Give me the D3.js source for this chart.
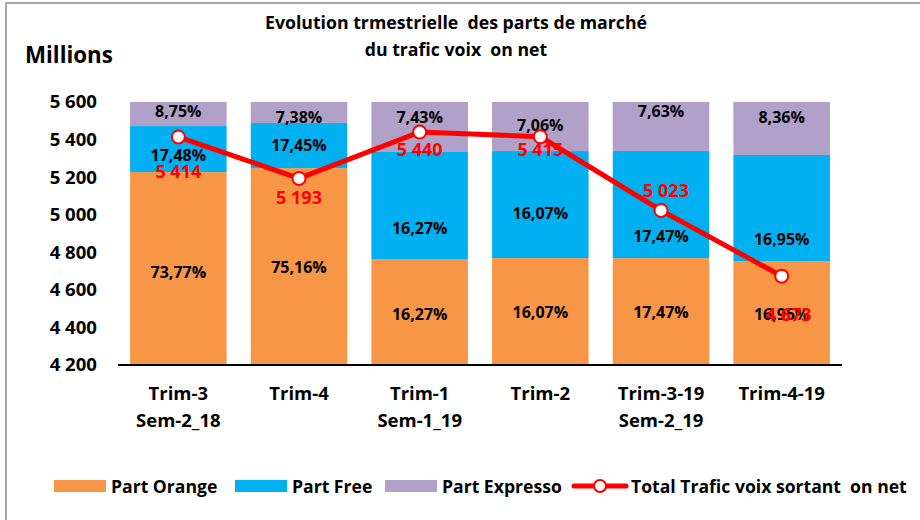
<!DOCTYPE html>
<html lang="fr">
<head>
<meta charset="utf-8">
<title>Evolution trimestrielle des parts de marché</title>
<script src="https://d3js.org/d3.v7.min.js"></script>
<style>
    body { margin: 0; background: #fff; }
    svg text { font-family: "Open Sans", Lato, sans-serif; font-weight: bold; }
</style>
</head>
<body>
<svg id="chart" width="920" height="520"></svg>
<script>
// Data (millions)
const quarters = [["Trim-3", "Sem-2_18"], ["Trim-4"], ["Trim-1", "Sem-1_19"], ["Trim-2"], ["Trim-3-19", "Sem-2_19"], ["Trim-4-19"]];
const orangeVals = [5227, 5248, 4764, 4769, 4769, 4753];
const freeVals = [245, 240, 570, 570, 570, 565];
const expressoVals = [400, 400, 400, 400, 400, 400];
const orangeLabels = ["73,77%", "75,16%", "16,27%", "16,07%", "17,47%", "16,95%"];
const freeLabels = ["17,48%", "17,45%", "16,27%", "16,07%", "17,47%", "16,95%"];
const expressoLabels = ["8,75%", "7,38%", "7,43%", "7,06%", "7,63%", "8,36%"];
const totalVals = [5414, 5193, 5440, 5415, 5023, 4673];
const totalLabels = ["5 414", "5 193", "5 440", "5 415", "5 023", "4 673"];
const yTicks = [4200, 4400, 4600, 4800, 5000, 5200, 5400, 5600];

const colors = {orange: "#F79646", free: "#00B0F0", expresso: "#B1A0C7", line: "#FF0000"};

const svg = d3.select("#chart");

// outer frame
svg.append("rect")
    .attr("x", 6).attr("y", 3)
    .attr("width", 930).attr("height", 530)
    .attr("fill", "none")
    .attr("stroke", "#8c8c8c")
    .attr("stroke-width", 1.5);

const plotL = 118, plotR = 842, plotT = 102, plotB = 365;

const x = d3.scaleBand()
    .domain(d3.range(quarters.length))
    .range([plotL, plotR])
    .paddingInner(0.2)
    .paddingOuter(0.1);

const y = d3.scaleLinear()
    .domain([4200, 5600])
    .range([plotB, plotT]);

svg.append("defs").append("clipPath").attr("id", "plot")
    .append("rect")
    .attr("x", plotL).attr("y", plotT)
    .attr("width", plotR - plotL).attr("height", plotB - plotT);

// stacked bars
const rows = quarters.map((q, i) => ({orange: orangeVals[i] - 4200, free: freeVals[i], expresso: expressoVals[i]}));
const stack = d3.stack().keys(["orange", "free", "expresso"])(rows);

const bars = svg.append("g").attr("clip-path", "url(#plot)");
stack.forEach(layer => {
    bars.selectAll(null)
        .data(layer)
        .join("rect")
        .attr("x", (d, i) => x(i))
        .attr("width", x.bandwidth())
        .attr("y", d => y(4200 + d[1]))
        .attr("height", d => y(4200 + d[0]) - y(4200 + d[1]))
        .attr("fill", colors[layer.key]);
});

// axis
svg.append("line")
    .attr("x1", plotL).attr("x2", plotR)
    .attr("y1", plotB).attr("y2", plotB)
    .attr("stroke", "#000").attr("stroke-width", 2);

const yAxis = svg.append("g")
    .attr("transform", `translate(${plotL}, 0)`)
    .call(d3.axisLeft(y).tickValues(yTicks).tickSize(0).tickPadding(21)
        .tickFormat(d => d3.format(",")(d).replace(",", " ")));
yAxis.select(".domain").remove();
yAxis.selectAll("text")
    .style("font-size", "18.6px")
    .style("font-family", "'Open Sans', sans-serif")
    .style("font-weight", "bold")
    .attr("fill", "#000");

// x labels
const xl = svg.append("g");
quarters.forEach((q, i) => {
    q.forEach((t, j) => {
        xl.append("text")
            .attr("x", x(i) + x.bandwidth() / 2)
            .attr("y", 400 + j * 27)
            .attr("text-anchor", "middle")
            .style("font-size", "18.5px")
            .text(t);
    });
});

// segment labels (vertical nudges to follow the original placement)
const visCenter = (a, b) => (y(Math.min(5600, 4200 + a)) + y(Math.min(5600, 4200 + b))) / 2;
const lbl = svg.append("g").style("font-size", "16px").attr("text-anchor", "middle");
const labelSets = [
    {layer: stack[0], text: orangeLabels, dy: [4, 1, 2, 1, 1, 1]},
    {layer: stack[1], text: freeLabels, dy: [6, 0, 23, 9, 32, 31]},
    {layer: stack[2], text: expressoLabels, dy: [-3, 5, -10, -1, -15, -11]}
];
labelSets.forEach(s => {
    s.layer.forEach((d, i) => {
        lbl.append("text")
            .attr("x", x(i) + x.bandwidth() / 2)
            .attr("y", visCenter(d[0], d[1]) + s.dy[i])
            .attr("dy", "0.35em")
            .attr("fill", "#000")
            .text(s.text[i]);
    });
});

// total line
const cx = i => x(i) + x.bandwidth() / 2;
const line = d3.line().x((d, i) => cx(i)).y(d => y(d));
svg.append("path")
    .datum(totalVals)
    .attr("d", line)
    .attr("fill", "none")
    .attr("stroke", colors.line)
    .attr("stroke-width", 5)
    .attr("stroke-linejoin", "round");

svg.selectAll(".pt")
    .data(totalVals)
    .join("circle")
    .attr("cx", (d, i) => cx(i))
    .attr("cy", d => y(d))
    .attr("r", 6.5)
    .attr("fill", "#fff")
    .attr("stroke", colors.line)
    .attr("stroke-width", 2);

const totDy = [35, 19, 18, 13, -20, 39];
const totDx = [0, 0, 0, 0, 5, 7];
svg.selectAll(".tl")
    .data(totalVals)
    .join("text")
    .attr("x", (d, i) => cx(i) + totDx[i])
    .attr("y", (d, i) => y(d) + totDy[i])
    .attr("dy", "0.35em")
    .attr("text-anchor", "middle")
    .attr("fill", colors.line)
    .style("font-size", "18px")
    .text((d, i) => totalLabels[i]);

// titles
svg.append("text").attr("x", 456).attr("y", 29).attr("text-anchor", "middle")
    .style("font-size", "17.7px").text("Evolution trmestrielle\u00a0 des parts de marché");
svg.append("text").attr("x", 456).attr("y", 56).attr("text-anchor", "middle")
    .style("font-size", "17.7px").text("du trafic voix\u00a0 on net");
svg.append("text").attr("x", 25).attr("y", 63)
    .style("font-size", "22.3px").text("Millions");

// legend
const legend = svg.append("g").style("font-size", "17.6px");
const legItems = [
    {label: "Part Orange", color: colors.orange, x: 54},
    {label: "Part Free", color: colors.free, x: 235},
    {label: "Part Expresso", color: colors.expresso, x: 385}
];
legItems.forEach(d => {
    legend.append("rect").attr("x", d.x).attr("y", 480).attr("width", 52).attr("height", 12).attr("fill", d.color);
    legend.append("text").attr("x", d.x + 57).attr("y", 493).text(d.label);
});
legend.append("line").attr("x1", 574).attr("x2", 626).attr("y1", 486).attr("y2", 486)
    .attr("stroke", colors.line).attr("stroke-width", 5).attr("stroke-linecap", "round");
legend.append("circle").attr("cx", 600).attr("cy", 486).attr("r", 6)
    .attr("fill", "#fff").attr("stroke", colors.line).attr("stroke-width", 2);
legend.append("text").attr("x", 631).attr("y", 493).text("Total Trafic voix sortant\u00a0 on net");
</script>
</body>
</html>
